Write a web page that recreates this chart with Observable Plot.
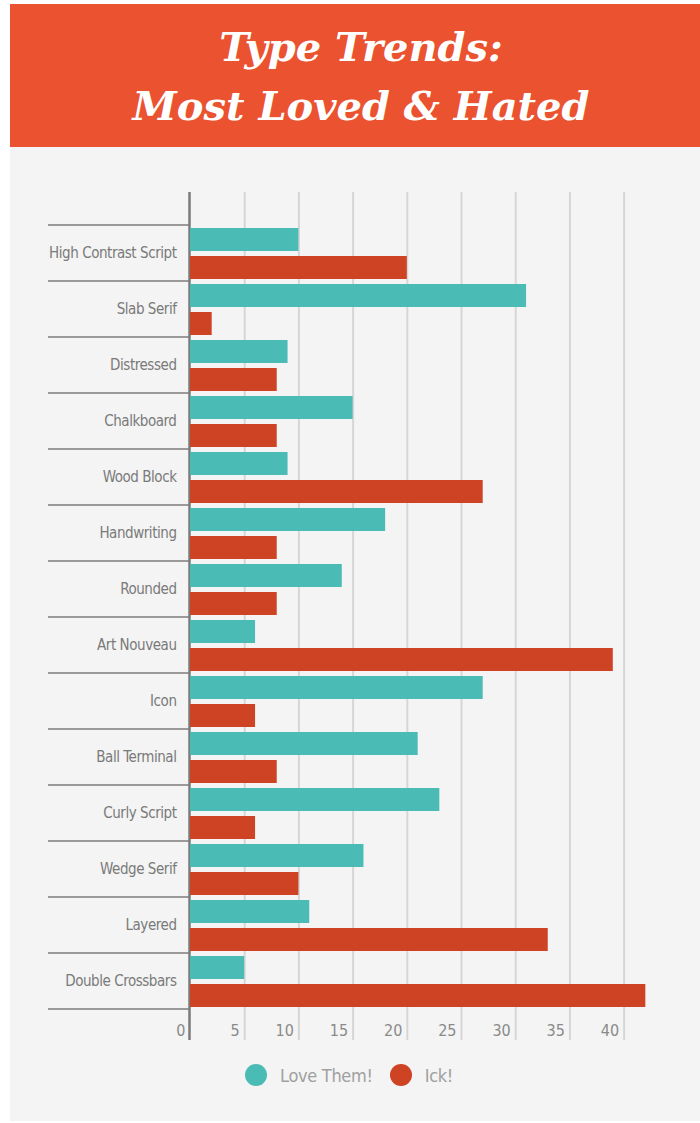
<!DOCTYPE html>
<html>
<head>
<meta charset="utf-8">
<script src="https://cdn.jsdelivr.net/npm/d3@7"></script>
<script src="https://cdn.jsdelivr.net/npm/@observablehq/plot@0.6"></script>
<style>
  body { margin: 0; background: #ffffff; width: 700px; height: 1123px; position: relative; overflow: hidden; }
  #header { position: absolute; left: 10px; top: 4px; width: 690px; height: 143px; background: #ea5230; }
  #header .t { position: absolute; left: 12px; width: 678px; text-align: center; color: #ffffff;
    font-family: "DejaVu Serif", serif; font-weight: bold; font-style: italic; font-size: 40px; line-height: 40px; white-space: nowrap; }
  #panel { position: absolute; left: 10px; top: 147px; width: 690px; height: 974px; background: #f3f4f3; }
  #chart { position: absolute; left: 0; top: 0; }
  #legend { position: absolute; left: 235px; top: 914px; height: 28px; display: flex; align-items: center;
    font-family: "Liberation Sans Narrow", "DejaVu Sans Condensed", sans-serif; font-size: 18px; letter-spacing: -0.3px; color: #a0a0a0; }
  #legend .item { display: flex; align-items: center; margin-right: 17px; }
  #legend .dot { width: 22px; height: 22px; border-radius: 50%; margin-right: 13px; }
  #chart svg g[aria-label="y-axis tick label"] text { letter-spacing: -0.45px; }
</style>
</head>
<body>
<div id="header">
  <div class="t" style="top:23px">Type Trends:</div>
  <div class="t" style="top:82px">Most Loved &amp; Hated</div>
</div>
<div id="panel">
  <div id="chart"></div>
  <div id="legend"></div>
</div>
<script>
const types = ["High Contrast Script", "Slab Serif", "Distressed", "Chalkboard", "Wood Block", "Handwriting", "Rounded", "Art Nouveau", "Icon", "Ball Terminal", "Curly Script", "Wedge Serif", "Layered", "Double Crossbars"];
const love = [10, 31, 9, 15, 9, 18, 14, 6, 27, 21, 23, 16, 11, 5];
const ick = [20, 2, 8, 8, 27, 8, 8, 39, 6, 8, 6, 10, 33, 42];
const seriesNames = ["Love Them!", "Ick!"];
const seriesColors = ["#4bbbb6", "#cf4325"];
const xTicks = [0, 5, 10, 15, 20, 25, 30, 35, 40];

const data = types.flatMap((t, i) => [
  {type: t, series: seriesNames[0], value: love[i]},
  {type: t, series: seriesNames[1], value: ick[i]}
]);

const font = '"Liberation Sans Narrow", "DejaVu Sans Condensed", sans-serif';

const plot = Plot.plot({
  width: 690,
  height: 903,
  marginLeft: 180,
  marginRight: 33,
  marginTop: 45,
  marginBottom: 10,
  style: {background: "transparent", fontFamily: font},
  x: {domain: [0, 44]},
  y: {domain: types, padding: 0, insetTop: 32, insetBottom: 30},
  color: {domain: seriesNames, range: seriesColors},
  marks: [
    Plot.ruleX(xTicks.filter(d => d > 0), {stroke: "#d6d6d6", strokeWidth: 2}),
    Plot.ruleX([0], {stroke: "#7b7b7b", strokeWidth: 2.5, dx: -1}),
    Plot.barX(data.filter(d => d.series === seriesNames[0]), {x: "value", y: "type", fill: "series", insetTop: 3, insetBottom: 30}),
    Plot.barX(data.filter(d => d.series === seriesNames[1]), {x: "value", y: "type", fill: "series", insetTop: 31, insetBottom: 2}),
    Plot.axisY({anchor: "left", tickSize: 0, tickPadding: 14, fontSize: 15, fill: "#7a7a7a", label: null}),
    Plot.axisX(xTicks, {anchor: "bottom", tickSize: 0, tickPadding: 0, dy: -16, dx: -5, textAnchor: "end", fontSize: 16, fill: "#8a8a8a", label: null})
  ]
});

// band separators on the category axis
const ys = plot.scale("y");
const x0 = plot.scale("x").apply(0);
const bounds = types.map(t => ys.apply(t)).concat([ys.apply(types[types.length - 1]) + ys.bandwidth]);
d3.select(plot).append("g")
  .selectAll("line").data(bounds).join("line")
  .attr("x1", x0 - 142).attr("x2", x0 - 1)
  .attr("y1", d => d).attr("y2", d => d)
  .attr("stroke", "#7d7d7d").attr("stroke-width", 1.3);

document.getElementById("chart").appendChild(plot);

// legend from the color scale
const cs = plot.scale("color");
const lg = d3.select("#legend");
cs.domain.forEach((name, i) => {
  const it = lg.append("div").attr("class", "item");
  it.append("div").attr("class", "dot").style("background", cs.range[i]);
  it.append("span").text(name);
});
</script>
</body>
</html>
